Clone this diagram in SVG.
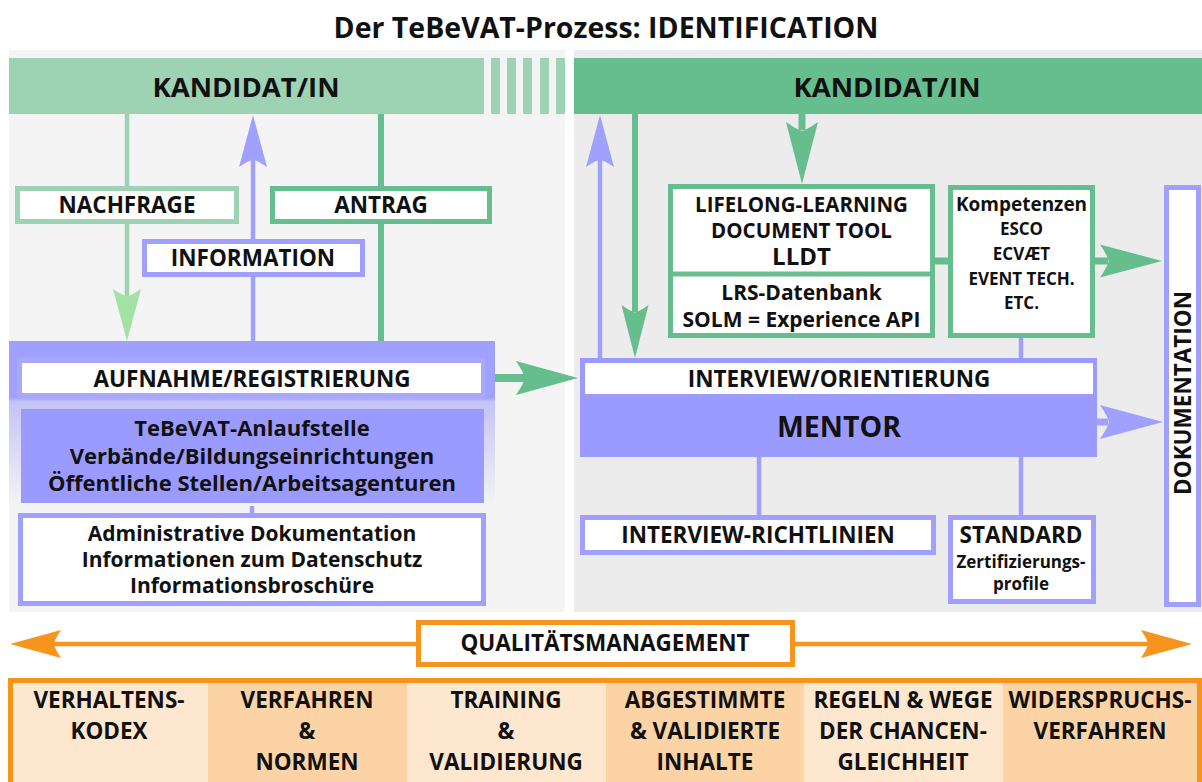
<svg xmlns="http://www.w3.org/2000/svg" width="1202" height="782" viewBox="0 0 1202 782">
  <defs>
    <style>
      .t { font-family: "Open Sans", "Liberation Sans", sans-serif; font-weight: 700; text-anchor: middle; fill: #111; }
      .f28 { font-size: 28.5px; }
      .f27 { font-size: 27.5px; }
      .f24 { font-size: 24px; }
      .f22 { font-size: 22.5px; }
      .f21 { font-size: 21px; }
      .f20 { font-size: 20.5px; }
      .f19 { font-size: 19px; }
      .f17 { font-size: 17px; }
      .box { fill: #fff; stroke-width: 5; }
      .g-light { stroke: #9dd3b3; }
      .g-mid { stroke: #66be8e; }
      .blue { stroke: #a0a0ff; }
      .orange { stroke: #f7941d; }
      .ln { fill: none; }
    </style>
    <!-- concave-backed arrowhead, tip at origin, pointing +x, unit length/width -->
    <path id="ah" d="M0,0 L-1,-0.5 Q-0.87,-0.14 -0.86,0 Q-0.87,0.14 -1,0.5 Z"/>
    <linearGradient id="regFade" x1="0" y1="0" x2="0" y2="1">
      <stop offset="0" stop-color="#a0a0ff"/>
      <stop offset="0.34" stop-color="#a0a0ff"/>
      <stop offset="0.37" stop-color="#c3c3f7"/>
      <stop offset="1" stop-color="#f4f4f4"/>
    </linearGradient>
  </defs>

  <!-- page background -->
  <rect x="0" y="0" width="1202" height="782" fill="#fff"/>

  <!-- title -->
  <text class="t f28" x="606" y="38">Der TeBeVAT-Prozess: IDENTIFICATION</text>

  <!-- panel backgrounds -->
  <rect x="9" y="50" width="556" height="562" fill="#f4f4f4"/>
  <rect x="574" y="50" width="628" height="562" fill="#ececec"/>

  <!-- header, left -->
  <g id="kandidat-left">
    <rect x="9" y="58" width="475" height="56" fill="#9dd3b3"/>
    <rect x="491" y="58" width="9" height="56" fill="#9dd3b3"/>
    <rect x="507" y="58" width="9" height="56" fill="#9dd3b3"/>
    <rect x="523" y="58" width="9" height="56" fill="#9dd3b3"/>
    <rect x="540" y="58" width="9" height="56" fill="#9dd3b3"/>
    <rect x="556" y="58" width="9" height="56" fill="#9dd3b3"/>
    <text class="t f27" x="246" y="97">KANDIDAT/IN</text>
  </g>

  <!-- header, right -->
  <g id="kandidat-right">
    <rect x="574" y="58" width="628" height="56" fill="#66be8e"/>
    <text class="t f27" x="887" y="97">KANDIDAT/IN</text>
  </g>

  <!-- connectors -->
  <g id="connectors">
    <!-- Nachfrage path -->
    <line class="ln g-light" x1="127" y1="114" x2="127" y2="188" stroke-width="4.5"/>
    <line class="ln g-light" x1="127" y1="222" x2="127" y2="296" stroke-width="4.5"/>
    <use href="#ah" fill="#a2e2a4" transform="translate(127,341) rotate(90) scale(52,28)"/>
    <!-- Information path (upwards) -->
    <line class="ln blue" x1="253" y1="160" x2="253" y2="343" stroke-width="4.5"/>
    <use href="#ah" fill="#a0a0ff" transform="translate(253,115) rotate(-90) scale(52,28)"/>
    <!-- Antrag path -->
    <line class="ln g-mid" x1="381" y1="114" x2="381" y2="188" stroke-width="6"/>
    <line class="ln g-mid" x1="381" y1="222" x2="381" y2="360" stroke-width="6"/>
    <!-- stack links on the left -->
    <line class="ln blue" x1="252" y1="396" x2="252" y2="411" stroke-width="4.5"/>
    <line class="ln blue" x1="252" y1="501" x2="252" y2="516" stroke-width="4.5"/>
    <!-- registration to interview -->
    <line class="ln g-mid" x1="484" y1="378" x2="525" y2="378" stroke-width="8"/>
    <use href="#ah" fill="#66be8e" transform="translate(578,378) scale(62,34)"/>
    <!-- right side: up to candidate -->
    <line class="ln blue" x1="600" y1="160" x2="600" y2="360" stroke-width="4.5"/>
    <use href="#ah" fill="#a0a0ff" transform="translate(600,115) rotate(-90) scale(52,28)"/>
    <!-- right side: down from candidate -->
    <line class="ln g-mid" x1="635" y1="114" x2="635" y2="312" stroke-width="6"/>
    <use href="#ah" fill="#66be8e" transform="translate(635,358) rotate(90) scale(53,27)"/>
    <!-- candidate to LLDT -->
    <line class="ln g-mid" x1="802" y1="114" x2="802" y2="130" stroke-width="7"/>
    <use href="#ah" fill="#66be8e" transform="translate(802,184) rotate(90) scale(62,32)"/>
    <!-- LLDT to competences -->
    <line class="ln g-mid" x1="933" y1="261" x2="950" y2="261" stroke-width="7"/>
    <!-- competences to interview -->
    <line class="ln blue" x1="1021" y1="336" x2="1021" y2="360" stroke-width="4.5"/>
    <!-- to documentation -->
    <line class="ln g-mid" x1="1093" y1="261" x2="1108" y2="261" stroke-width="7"/>
    <use href="#ah" fill="#66be8e" transform="translate(1162,261) scale(62,33)"/>
    <line class="ln blue" x1="1095" y1="422" x2="1108" y2="422" stroke-width="7"/>
    <use href="#ah" fill="#a0a0ff" transform="translate(1163,422) scale(63,34)"/>
    <!-- mentor to guidelines / standard -->
    <line class="ln blue" x1="759" y1="455" x2="759" y2="519" stroke-width="4.5"/>
    <line class="ln blue" x1="1021" y1="455" x2="1021" y2="519" stroke-width="4.5"/>
    <!-- quality management double arrow -->
    <line class="ln orange" x1="50" y1="644" x2="1152" y2="644" stroke-width="4.5"/>
    <use href="#ah" fill="#f7941d" transform="translate(10,644) rotate(180) scale(51,28)"/>
    <use href="#ah" fill="#f7941d" transform="translate(1192,644) scale(51,28)"/>
  </g>

  <!-- left column nodes -->
  <g id="nachfrage">
    <rect class="box g-light" x="17.5" y="188.5" width="219" height="33"/>
    <text class="t f22" x="127" y="213">NACHFRAGE</text>
  </g>

  <g id="information">
    <rect class="box blue" x="144.5" y="241.5" width="218" height="33"/>
    <text class="t f22" x="253" y="266">INFORMATION</text>
  </g>

  <g id="antrag">
    <rect class="box g-mid" x="272.5" y="188.5" width="217" height="33"/>
    <text class="t f22" x="381" y="213">ANTRAG</text>
  </g>

  <g id="aufnahme">
    <rect x="9" y="341" width="486" height="165" fill="url(#regFade)"/>
    <rect class="box" stroke="#a8a8ff" x="19.5" y="360.5" width="464" height="35"/>
    <text class="t f22" x="252" y="387">AUFNAHME/REGISTRIERUNG</text>
  </g>

  <g id="anlaufstelle">
    <rect x="21" y="409" width="463" height="94" fill="#9a9aff"/>
    <text class="t" style="font-size:22px" x="252" y="436">TeBeVAT-Anlaufstelle</text>
    <text class="t" style="font-size:22px" x="252" y="464">Verbände/Bildungseinrichtungen</text>
    <text class="t" style="font-size:22px" x="252" y="491">Öffentliche Stellen/Arbeitsagenturen</text>
  </g>

  <g id="admin-dokumentation">
    <rect class="box blue" x="20.5" y="515.5" width="463" height="88"/>
    <text class="t f21" x="252" y="541">Administrative Dokumentation</text>
    <text class="t f21" x="252" y="567">Informationen zum Datenschutz</text>
    <text class="t f21" x="252" y="593">Informationsbroschüre</text>
  </g>

  <!-- right column nodes -->
  <g id="lldt">
    <rect class="box g-mid" x="670.5" y="186.5" width="262" height="149"/>
    <line class="g-mid" x1="670" y1="274" x2="933" y2="274" stroke-width="5"/>
    <text class="t f20" x="801.5" y="212">LIFELONG-LEARNING</text>
    <text class="t f20" x="801.5" y="238">DOCUMENT TOOL</text>
    <text class="t f24" x="801.5" y="265">LLDT</text>
    <text class="t f21" x="801.5" y="300">LRS-Datenbank</text>
    <text class="t f21" x="801.5" y="327">SOLM = Experience API</text>
  </g>

  <g id="kompetenzen">
    <rect class="box g-mid" x="950.5" y="187.5" width="142" height="148"/>
    <text class="t f19" x="1021.5" y="211">Kompetenzen</text>
    <text class="t f17" x="1021.5" y="235">ESCO</text>
    <text class="t f17" x="1021.5" y="260">ECVÆT</text>
    <text class="t f17" x="1021.5" y="285">EVENT TECH.</text>
    <text class="t f17" x="1021.5" y="309">ETC.</text>
  </g>

  <g id="interview-mentor">
    <rect x="580" y="358" width="517" height="99" fill="#9b9bff"/>
    <rect x="585" y="363" width="508" height="31" fill="#fff"/>
    <text class="t f22" x="839" y="387">INTERVIEW/ORIENTIERUNG</text>
    <text class="t f28" x="839" y="437">MENTOR</text>
  </g>

  <g id="interview-richtlinien">
    <rect class="box blue" x="582.5" y="517.5" width="351" height="35"/>
    <text class="t f22" x="758" y="543">INTERVIEW-RICHTLINIEN</text>
  </g>

  <g id="standard">
    <rect class="box blue" x="950.5" y="517.5" width="143" height="84"/>
    <text class="t f22" x="1021" y="543">STANDARD</text>
    <text class="t f17" x="1021" y="568">Zertifizierungs-</text>
    <text class="t f17" x="1021" y="590">profile</text>
  </g>

  <g id="dokumentation">
    <rect class="box blue" x="1166.5" y="187.5" width="32" height="417"/>
    <text class="t f22" transform="translate(1183,393) rotate(-90)" x="0" y="8">DOKUMENTATION</text>
  </g>

  <!-- quality management -->
  <g id="qualitaetsmanagement">
    <rect class="box orange" x="418.5" y="622.5" width="374" height="42"/>
    <text class="t f22" x="605" y="651">QUALITÄTSMANAGEMENT</text>
  </g>

  <g id="qualitaetssaeulen">
    <rect x="13" y="683" width="195" height="99" fill="#fde7ce"/>
    <rect x="208" y="683" width="199" height="99" fill="#fcd3a5"/>
    <rect x="407" y="683" width="199" height="99" fill="#fde7ce"/>
    <rect x="606" y="683" width="198" height="99" fill="#fcd3a5"/>
    <rect x="804" y="683" width="199" height="99" fill="#fde7ce"/>
    <rect x="1003" y="683" width="194" height="99" fill="#fcd3a5"/>
    <rect x="10.5" y="680.5" width="1189" height="120" fill="none" stroke="#f7941d" stroke-width="5"/>

    <text class="t f22" x="109" y="708">VERHALTENS-</text>
    <text class="t f22" x="109" y="739">KODEX</text>

    <text class="t f22" x="307" y="708">VERFAHREN</text>
    <text class="t f22" x="307" y="739">&amp;</text>
    <text class="t f22" x="307" y="770">NORMEN</text>

    <text class="t f22" x="506" y="708">TRAINING</text>
    <text class="t f22" x="506" y="739">&amp;</text>
    <text class="t f22" x="506" y="770">VALIDIERUNG</text>

    <text class="t f22" x="705" y="708">ABGESTIMMTE</text>
    <text class="t f22" x="705" y="739">&amp; VALIDIERTE</text>
    <text class="t f22" x="705" y="770">INHALTE</text>

    <text class="t f22" x="903" y="708">REGELN &amp; WEGE</text>
    <text class="t f22" x="903" y="739">DER CHANCEN-</text>
    <text class="t f22" x="903" y="770">GLEICHHEIT</text>

    <text class="t f22" x="1100" y="708">WIDERSPRUCHS-</text>
    <text class="t f22" x="1100" y="739">VERFAHREN</text>
  </g>
</svg>
